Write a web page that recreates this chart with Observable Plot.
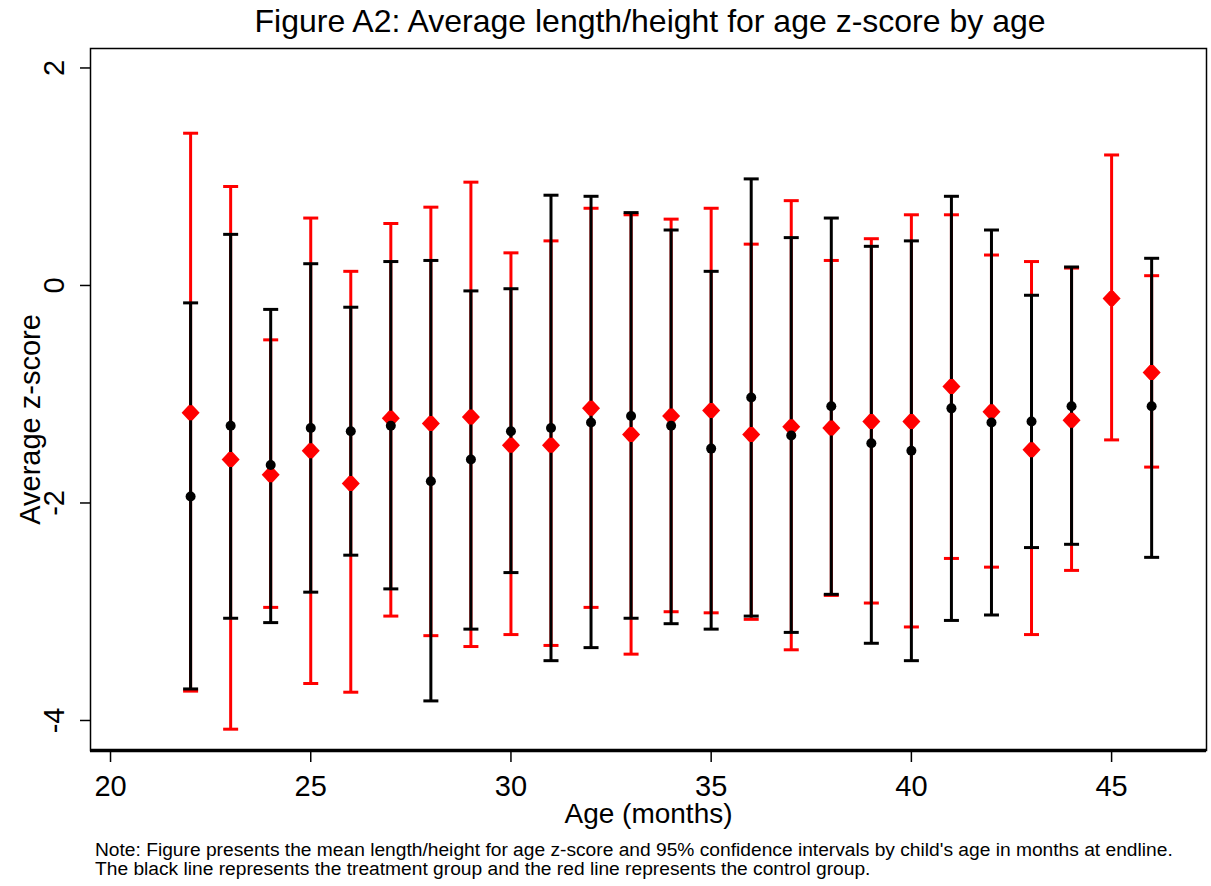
<!DOCTYPE html>
<html><head><meta charset="utf-8">
<script src="https://cdn.jsdelivr.net/npm/d3@7"></script>
<script src="https://cdn.jsdelivr.net/npm/@observablehq/plot@0.6"></script>
<style>
body{margin:0;background:#fff;font-family:"Liberation Sans",Arial,sans-serif;width:1211px;height:886px;overflow:hidden;color:#000}
#title{height:45px;line-height:43px;font-size:32px;text-align:center;padding-left:89px;box-sizing:border-box;width:1211px;white-space:nowrap}
#chart{height:790px}
#note{padding:5px 0 0 95px;font-size:19.2px;line-height:19px;white-space:nowrap}
</style></head><body>
<div id="title">Figure A2: Average length/height for age z-score by age</div>
<div id="chart"></div>
<div id="note">Note: Figure presents the mean length/height for age z-score and 95% confidence intervals by child's age in months at endline.<br>The black line represents the treatment group and the red line represents the control group.</div>
<script>
// Age in months
const ages = [22,23,24,25,26,27,28,29,30,31,32,33,34,35,36,37,38,39,40,41,42,43,44,45,46];
// Control group (red)
const controlMean = [-1.17,-1.60,-1.74,-1.52,-1.82,-1.22,-1.27,-1.21,-1.47,-1.47,-1.13,-1.37,-1.20,-1.15,-1.37,-1.30,-1.31,-1.25,-1.25,-0.93,-1.16,-1.51,-1.24,-0.12,-0.80];
const controlLow  = [-3.73,-4.08,-2.96,-3.66,-3.74,-3.04,-3.22,-3.32,-3.21,-3.31,-2.96,-3.39,-3.00,-3.01,-3.07,-3.35,-2.85,-2.92,-3.14,-2.51,-2.59,-3.21,-2.62,-1.42,-1.67];
const controlHigh = [1.40,0.91,-0.50,0.62,0.13,0.57,0.72,0.95,0.30,0.41,0.71,0.65,0.61,0.71,0.38,0.78,0.23,0.43,0.65,0.65,0.28,0.22,0.16,1.20,0.09];
// Treatment group (black); no value at 45 months
const treatMean = [-1.94,-1.29,-1.65,-1.31,-1.34,-1.29,-1.80,-1.60,-1.34,-1.31,-1.26,-1.20,-1.29,-1.50,-1.03,-1.38,-1.11,-1.45,-1.52,-1.13,-1.26,-1.25,-1.11,null,-1.11];
const treatLow  = [-3.71,-3.06,-3.10,-2.82,-2.48,-2.79,-3.82,-3.16,-2.64,-3.45,-3.33,-3.06,-3.11,-3.16,-3.04,-3.19,-2.84,-3.29,-3.45,-3.08,-3.03,-2.41,-2.38,null,-2.50];
const treatHigh = [-0.16,0.47,-0.22,0.20,-0.20,0.22,0.23,-0.05,-0.03,0.83,0.82,0.67,0.51,0.13,0.98,0.44,0.62,0.36,0.41,0.82,0.51,-0.09,0.17,null,0.25];
// Axis ticks
const xTicks = [20,25,30,35,40,45];
const yTicks = [2,0,-2,-4];

const control = ages.map((a,i)=>({age:a, mean:controlMean[i], lo:controlLow[i], hi:controlHigh[i]}));
const treat = ages.map((a,i)=>({age:a, mean:treatMean[i], lo:treatLow[i], hi:treatHigh[i]})).filter(d=>d.mean!=null);

const capSym = {draw(ctx){ctx.moveTo(-7.5,0);ctx.lineTo(7.5,0);}};
const diamondSym = {draw(ctx){ctx.moveTo(-9,0);ctx.lineTo(-2,-7.5);ctx.lineTo(2,-7.5);ctx.lineTo(9,0);ctx.lineTo(2,7.5);ctx.lineTo(-2,7.5);ctx.closePath();}};

const yDomain = [-4.276, 2.179];
const RED = "#ff0000", BLACK = "#000000";

const chart = Plot.plot({
  width:1211, height:790,
  marginLeft:90, marginRight:5, marginTop:3, marginBottom:85,
  x:{domain:[19.5,47.37]},
  y:{domain:yDomain},
  style:{fontFamily:'"Liberation Sans", Arial, sans-serif', background:"#fff", color:"#000", overflow:"visible"},
  marks:[
    Plot.frame({stroke:BLACK, strokeWidth:1.5}),
    Plot.ruleY([yDomain[0]], {stroke:BLACK, strokeWidth:3.5}),
    Plot.axisX(xTicks, {tickSize:12, tickPadding:12.5, fontSize:29, strokeWidth:1.5, label:null, tickFormat:d=>String(d)}),
    Plot.axisY(yTicks, {tickSize:10, tickRotate:-90, tickPadding:17, fontSize:29, strokeWidth:1.5, label:null, tickFormat:d=>String(d)}),
    Plot.text(["Average z-score"], {text:d=>d, frameAnchor:"left", textAnchor:"middle", lineAnchor:"middle", dx:-60, dy:20, rotate:-90, fontSize:29}),
    Plot.text(["Age (months)"], {text:d=>d, frameAnchor:"bottom", textAnchor:"middle", lineAnchor:"middle", dy:64, fontSize:28}),
    Plot.ruleX(control, {x:"age", y1:"lo", y2:"hi", stroke:RED, strokeWidth:3}),
    Plot.dot(control, {x:"age", y:"lo", symbol:capSym, stroke:RED, fill:"none", strokeWidth:3}),
    Plot.dot(control, {x:"age", y:"hi", symbol:capSym, stroke:RED, fill:"none", strokeWidth:3}),
    Plot.ruleX(treat, {x:"age", y1:"lo", y2:"hi", stroke:BLACK, strokeWidth:3}),
    Plot.dot(treat, {x:"age", y:"lo", symbol:capSym, stroke:BLACK, fill:"none", strokeWidth:3}),
    Plot.dot(treat, {x:"age", y:"hi", symbol:capSym, stroke:BLACK, fill:"none", strokeWidth:3}),
    Plot.dot(control, {x:"age", y:"mean", symbol:diamondSym, fill:RED, stroke:"none"}),
    Plot.dot(treat, {x:"age", y:"mean", r:5, fill:BLACK, stroke:"none"})
  ]
});
document.getElementById("chart").appendChild(chart);
</script>
</body></html>
